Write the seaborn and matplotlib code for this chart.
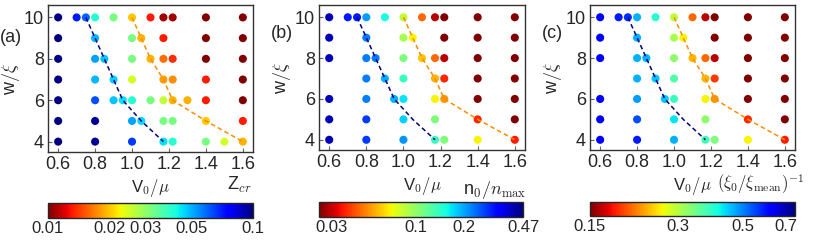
import pandas as pd
import matplotlib
matplotlib.use("Agg")
import matplotlib.pyplot as plt
from matplotlib.colors import LogNorm
from matplotlib.cm import ScalarMappable
import seaborn as sns

# DATOS (filas de w/xi de arriba hacia abajo)
w_rows = [10, 9, 8, 7, 6, 5, 4]

a_v0 = [
    [0.6, 0.7, 0.75, 0.8, 0.9, 1.0, 1.1, 1.17, 1.22, 1.4, 1.6],
    [0.6, 0.8, 1.0, 1.05, 1.17, 1.4, 1.6],
    [0.6, 0.8, 0.85, 1.0, 1.1, 1.17, 1.22, 1.4, 1.6],
    [0.6, 0.8, 0.9, 1.0, 1.17, 1.22, 1.4, 1.6],
    [0.6, 0.8, 0.9, 0.95, 1.0, 1.1, 1.17, 1.22, 1.3, 1.4, 1.6],
    [0.6, 0.8, 1.0, 1.05, 1.17, 1.22, 1.4, 1.6],
    [0.6, 0.8, 1.0, 1.17, 1.22, 1.4, 1.5, 1.6],
]
a_z = [
    [0.100, 0.071, 0.060, 0.040, 0.032, 0.020, 0.0132, 0.0107, 0.0107, 0.010, 0.010],
    [0.100, 0.050, 0.032, 0.019, 0.0132, 0.010, 0.010],
    [0.100, 0.052, 0.048, 0.032, 0.019, 0.016, 0.0138, 0.010, 0.010],
    [0.100, 0.050, 0.047, 0.025, 0.018, 0.0174, 0.0132, 0.010],
    [0.100, 0.063, 0.048, 0.045, 0.040, 0.032, 0.026, 0.019, 0.019, 0.0132, 0.010],
    [0.100, 0.095, 0.052, 0.046, 0.032, 0.032, 0.020, 0.0132],
    [0.100, 0.095, 0.066, 0.045, 0.040, 0.032, 0.025, 0.019],
]

bc_v0 = [
    [0.6, 0.7, 0.75, 0.8, 0.9, 1.0, 1.1, 1.17, 1.22, 1.4, 1.6],
    [0.6, 0.8, 1.0, 1.05, 1.22, 1.4, 1.6],
    [0.6, 0.8, 0.85, 1.0, 1.1, 1.17, 1.22, 1.4, 1.6],
    [0.8, 0.9, 1.0, 1.17, 1.22, 1.4, 1.6],
    [0.6, 0.8, 0.95, 1.0, 1.17, 1.22, 1.4, 1.6],
    [0.6, 0.8, 1.0, 1.17, 1.4, 1.6],
    [0.6, 0.8, 1.0, 1.17, 1.22, 1.4, 1.6],
]
b_z = [
    [0.406, 0.303, 0.303, 0.207, 0.154, 0.086, 0.045, 0.029, 0.025, 0.025, 0.025],
    [0.406, 0.226, 0.094, 0.070, 0.025, 0.025, 0.025],
    [0.406, 0.226, 0.226, 0.108, 0.060, 0.045, 0.029, 0.025, 0.025],
    [0.226, 0.195, 0.137, 0.057, 0.0366, 0.025, 0.025],
    [0.406, 0.226, 0.195, 0.168, 0.070, 0.052, 0.025, 0.025],
    [0.406, 0.277, 0.178, 0.108, 0.0366, 0.025],
    [0.406, 0.277, 0.213, 0.137, 0.108, 0.070, 0.0355],
]
c_z = [
    [0.618, 0.589, 0.571, 0.463, 0.394, 0.295, 0.207, 0.163, 0.15, 0.15, 0.15],
    [0.618, 0.463, 0.309, 0.264, 0.15, 0.15, 0.15],
    [0.618, 0.463, 0.463, 0.325, 0.236, 0.207, 0.163, 0.15, 0.15],
    [0.463, 0.448, 0.364, 0.236, 0.191, 0.15, 0.15],
    [0.618, 0.478, 0.448, 0.382, 0.264, 0.224, 0.15, 0.15],
    [0.618, 0.544, 0.427, 0.325, 0.185, 0.15],
    [0.618, 0.589, 0.463, 0.376, 0.335, 0.264, 0.182],
]

# lineas discontinuas
blue_v0 = [0.75, 0.8, 0.85, 0.9, 0.95, 1.05, 1.17]
blue_w = [10, 9, 8, 7, 6, 5, 4]
orange_v0 = [1.0, 1.05, 1.1, 1.17, 1.22, 1.4, 1.6]
orange_w = [10, 9, 8, 7, 6, 5, 4]

x_ticks = [0.6, 0.8, 1.0, 1.2, 1.4, 1.6]
y_ticks = [4, 6, 8, 10]
a_cticks = [0.01, 0.02, 0.03, 0.05, 0.1]
b_cticks = [0.03, 0.1, 0.2, 0.47]
c_cticks = [0.15, 0.3, 0.5, 0.7]


def tabla(v0_rows, z_rows):
    filas = []
    for w, xs, zs in zip(w_rows, v0_rows, z_rows):
        for x, z in zip(xs, zs):
            filas.append({"v0": x, "w": w, "z": z})
    return pd.DataFrame(filas)


sns.set_theme(style="ticks")
plt.rcParams["font.family"] = ["Liberation Sans", "DejaVu Sans"]
plt.rcParams["mathtext.fontset"] = "cm"

W, H = 814, 243
fig = plt.figure(figsize=(W / 100, H / 100), dpi=100)


def px(x0, y0, x1, y1):
    return [x0 / W, 1 - y1 / H, (x1 - x0) / W, (y1 - y0) / H]


paneles = [
    ("(a)", tabla(a_v0, a_z), 0.01, 0.1, a_cticks, ["0.01", "0.02", "0.03", "0.05", "0.1"],
     "Z$_{cr}$", 13, px(48, 5, 253, 152), px(48, 203, 253, 218), (0, 38), (252, 185)),
    ("(b)", tabla(bc_v0, b_z), 0.025, 0.47, b_cticks, ["0.03", "0.1", "0.2", "0.47"],
     "n$_0/n_{\\rm max}$", 13, px(319, 5, 525, 150), px(319, 202, 523, 217), (271, 33), (527, 190)),
    ("(c)", tabla(bc_v0, c_z), 0.15, 0.75, c_cticks, ["0.15", "0.3", "0.5", "0.7"],
     "$(\\xi_0/\\xi_{\\rm mean})^{-1}$", 12, px(590, 5, 795, 150), px(590, 202, 795, 216), (542, 33), (805, 184)),
]

for letra, df, vmin, vmax, cticks, clabels, ctitulo, tsize, rect, crect, lpos, tpos in paneles:
    norm = LogNorm(vmin=vmin, vmax=vmax)
    ax = fig.add_axes(rect)
    sns.scatterplot(data=df, x="v0", y="w", hue="z", hue_norm=norm, palette="jet_r",
                    s=34, linewidth=0, legend=False, ax=ax, zorder=2)
    sns.lineplot(x=blue_v0, y=blue_w, sort=False, estimator=None, color="navy",
                 linestyle=(0, (3, 2)), lw=1.1, ax=ax, zorder=3)
    sns.lineplot(x=orange_v0, y=orange_w, sort=False, estimator=None, color="darkorange",
                 linestyle=(0, (3, 2)), lw=1.1, ax=ax, zorder=3)
    ax.set_xlim(0.545, 1.655)
    ax.set_ylim(3.5, 10.6)
    ax.set_xticks(x_ticks)
    ax.set_xticklabels([f"{t:.1f}" for t in x_ticks])
    ax.set_yticks(y_ticks)
    ax.tick_params(direction="in", length=3, width=0.8, color="0.4", labelsize=13, pad=3)
    for s in ax.spines.values():
        s.set_linewidth(1.0)
        s.set_color("0.2")
    ax.set_xlabel("V$_0/\\mu$", fontsize=12, labelpad=3)
    ax.set_ylabel("w$/\\xi$", fontsize=13, labelpad=1)
    fig.text(lpos[0] / W, 1 - lpos[1] / H, letra, fontsize=13, ha="left", va="center")

    cax = fig.add_axes(crect)
    sm = ScalarMappable(norm=norm, cmap="jet_r")
    cb = fig.colorbar(sm, cax=cax, orientation="horizontal")
    cb.set_ticks(cticks)
    cb.set_ticklabels(clabels)
    cb.minorticks_off()
    cb.outline.set_linewidth(1.0)
    cax.tick_params(direction="in", length=3, width=0.8, color="0.4", labelsize=12, pad=2)
    fig.text(tpos[0] / W, 1 - tpos[1] / H, ctitulo, fontsize=tsize, ha="right", va="center")

fig.savefig("out.png", dpi=100)
